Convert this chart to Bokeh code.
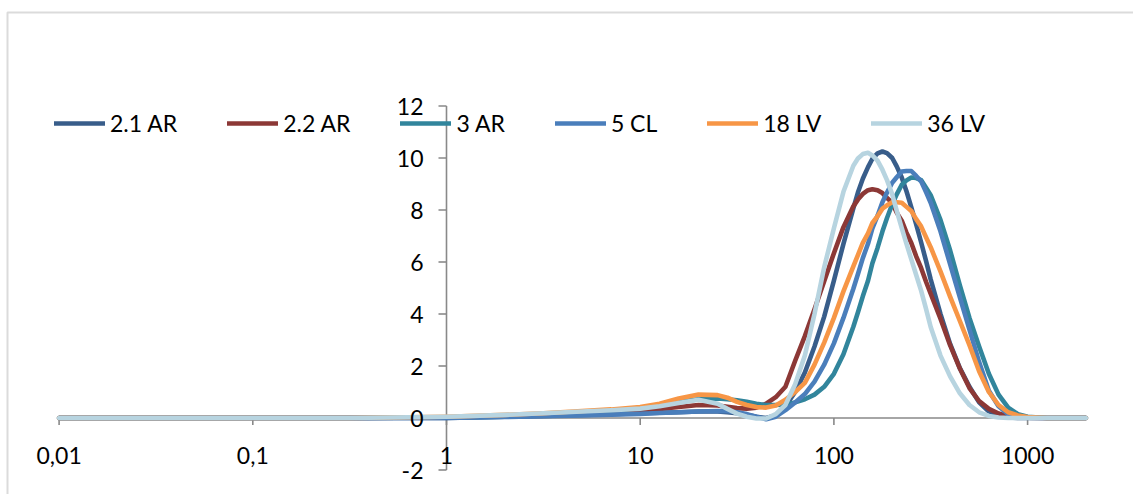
import math
from bokeh.plotting import figure
from bokeh.models import Range1d, BoxAnnotation, Legend, LegendItem
from bokeh.core.properties import value
from bokeh.embed import file_html
from bokeh.resources import INLINE

# ---------------- data ----------------
size_um = [0.01, 0.0316, 0.1, 0.316, 1, 2, 3.16, 5.01, 7.08, 10, 12.6, 15.8, 20,
           25.1, 28.2, 31.6, 35.5, 39.8, 44.7, 50.1, 56.2, 63.1, 70.8, 79.4, 89.1,
           100, 112, 126,
           133, 141, 150, 158, 168, 178, 188, 200, 211, 224, 237, 251, 266, 282, 299, 316,
           355, 398, 447, 501, 562, 631, 708, 794, 891, 1000, 1259, 1585, 2000]

ar_2_1 = [0, 0, 0, 0, 0.0, 0.05, 0.08, 0.12, 0.15, 0.18, 0.2, 0.22, 0.25, 0.25, 0.22,
          0.18, 0.12, 0.05, 0.0, 0.1, 0.45, 1.0, 1.75, 2.75, 3.9, 5.28, 6.7, 8.06,
          8.67, 9.2, 9.65, 9.97, 10.18, 10.25, 10.19, 10.0, 9.68, 9.25, 8.72, 8.1, 7.45,
          6.76, 6.04, 5.33,
          4.0, 2.85, 1.92, 1.2, 0.6, 0.25, 0.08, 0.02, 0, 0, 0, 0, 0]
ar_2_2 = [0, 0, 0, 0, 0.02, 0.07, 0.12, 0.2, 0.25, 0.3, 0.35, 0.42, 0.5, 0.48, 0.43,
          0.38, 0.36, 0.4, 0.55, 0.8, 1.2, 2.2, 3.15, 4.18, 5.26, 6.34, 7.34, 8.14,
          8.4, 8.62, 8.76, 8.8, 8.76, 8.65, 8.47, 8.27, 7.9, 7.59, 7.13, 6.73, 6.22,
          5.77, 5.24, 4.78,
          3.82, 2.8, 1.9, 1.15, 0.65, 0.35, 0.17, 0.07, 0.03, 0.01, 0, 0, 0]
ar_3 = [0, 0, 0, 0, 0.02, 0.05, 0.12, 0.2, 0.28, 0.38, 0.5, 0.62, 0.72, 0.75, 0.72,
        0.68, 0.62, 0.55, 0.5, 0.5, 0.52, 0.6, 0.72, 0.9, 1.2, 1.7, 2.45, 3.51,
        4.06, 4.68, 5.28, 5.95, 6.54, 7.17, 7.69, 8.22, 8.6, 8.97, 9.14, 9.25, 9.23,
        9.15, 8.86, 8.57,
        7.62, 6.45, 5.1, 3.85, 2.75, 1.7, 0.9, 0.4, 0.15, 0.05, 0, 0, 0]
cl_5 = [0, 0, 0, 0, 0.0, 0.04, 0.07, 0.1, 0.13, 0.16, 0.19, 0.22, 0.25, 0.27, 0.26,
        0.22, 0.15, 0.05, -0.05, 0.05, 0.3, 0.6, 0.92, 1.4, 2.05, 2.87, 3.85, 4.97,
        5.53, 6.15, 6.7, 7.29, 7.78, 8.3, 8.67, 9.05, 9.26, 9.48, 9.5, 9.5, 9.31,
        9.1, 8.69, 8.28,
        7.18, 5.92, 4.64, 3.4, 2.15, 1.05, 0.45, 0.15, 0.05, 0.01, 0, 0, 0]
lv_18 = [0, 0, 0, 0, 0.05, 0.12, 0.18, 0.27, 0.33, 0.42, 0.55, 0.75, 0.9, 0.88, 0.78,
         0.62, 0.5, 0.42, 0.4, 0.48, 0.7, 1.0, 1.35, 2.05, 2.9, 3.85, 4.87, 5.83,
         6.26, 6.74, 7.1, 7.5, 7.76, 8.05, 8.18, 8.3, 8.3, 8.28, 8.12, 7.96, 7.65,
         7.37, 6.95, 6.57,
         5.64, 4.67, 3.73, 2.8, 1.8, 1.0, 0.5, 0.22, 0.1, 0.04, 0, 0, 0]
lv_36 = [0, 0, 0, 0, 0.05, 0.12, 0.18, 0.25, 0.3, 0.36, 0.45, 0.58, 0.7, 0.55, 0.35,
         0.17, 0.05, -0.02, -0.02, 0.15, 0.5, 1.3, 2.4, 4.0, 5.8, 7.3, 8.7, 9.7,
         9.98, 10.15, 10.2, 10.1, 9.9, 9.55, 9.15, 8.6, 7.98, 7.3, 6.7, 6.1, 5.5,
         4.9, 4.2, 3.5,
         2.4, 1.6, 0.95, 0.5, 0.22, 0.08, 0.02, 0, 0, 0, 0, 0, 0]

series_names = ["2.1 AR", "2.2 AR", "3 AR", "5 CL", "18 LV", "36 LV"]
series_values = [ar_2_1, ar_2_2, ar_3, cl_5, lv_18, lv_36]
series_colors = ["#385D8A", "#8C3836", "#31859C", "#4A7EBB", "#F79646", "#B7D4E0"]

x_ticks = [0.01, 0.1, 1, 10, 100, 1000]
x_tick_labels = ["0,01", "0,1", "1", "10", "100", "1000"]
x_axis_end = 2000
y_ticks = [-2, 0, 2, 4, 6, 8, 10, 12]
y_tick_labels = ["-2", "0", "2", "4", "6", "8", "10", "12"]

# ---------------- layout ----------------
W, H = 1133, 494
X1_PX = 446.0      # pixel column of x = 1
DEC_PX = 193.7     # pixels per decade
Y0_PX = 417.5      # pixel row of y = 0
UNIT_PX = 26.0     # pixels per y unit
FONT = "Lato"
FSIZE = "23px"
GREY = "#898989"

x_range = Range1d(10 ** (-X1_PX / DEC_PX), 10 ** ((W - X1_PX) / DEC_PX))
y_range = Range1d(-(H - Y0_PX) / UNIT_PX, Y0_PX / UNIT_PX)

p = figure(width=W, height=H, x_axis_type="log", x_range=x_range, y_range=y_range,
           output_backend="svg", toolbar_location=None,
           x_axis_location=None, y_axis_location=None, min_border=0)
p.outline_line_color = None
p.grid.visible = False
p.background_fill_color = "white"
p.border_fill_color = "white"

# chart-area border (right/bottom edges lie outside the window)
border = BoxAnnotation(left=10 ** ((7 - X1_PX) / DEC_PX), right=1e7,
                       top=(Y0_PX - 12) / UNIT_PX, bottom=-100,
                       fill_alpha=0, line_color=GREY, line_width=2)
p.add_layout(border)

# axes drawn at their crossing points (x axis at y=0, y axis at x=1)
p.line([x_ticks[0], x_axis_end], [0, 0], line_color=GREY, line_width=1.6)
p.line([1, 1], [y_ticks[0], y_ticks[-1]], line_color=GREY, line_width=1.6)
p.ray(x=x_ticks, y=[0] * len(x_ticks), length=7, length_units="screen",
      angle=-math.pi / 2, line_color=GREY, line_width=1.6)
p.ray(x=[1] * len(y_ticks), y=y_ticks, length=8, length_units="screen",
      angle=math.pi, line_color=GREY, line_width=1.6)

renderers = []
for name, ys, col in zip(series_names, series_values, series_colors):
    r = p.line(size_um, ys, line_color=col, line_width=4.6,
               line_cap="round", line_join="round")
    renderers.append(r)

p.text(x=x_ticks, y=[0] * len(x_ticks), text=x_tick_labels, text_align="center",
       text_baseline="middle", y_offset=37, text_font=value(FONT),
       text_font_size=FSIZE, text_color="black")
p.text(x=[1] * len(y_ticks), y=y_ticks, text=y_tick_labels, text_align="right",
       text_baseline="middle", x_offset=-23, text_font=value(FONT),
       text_font_size=FSIZE, text_color="black")

legend = Legend(items=[LegendItem(label=n, renderers=[r])
                       for n, r in zip(series_names, renderers)],
                orientation="horizontal", location=(54, 357),
                glyph_width=51, glyph_height=20, label_standoff=5,
                label_width=10, label_height=20, spacing=50, padding=0, margin=0,
                border_line_color=None, background_fill_alpha=0,
                label_text_font=FONT, label_text_font_size=FSIZE,
                label_text_color="black")
p.add_layout(legend)

open("out.html", "w").write(file_html(p, INLINE))
